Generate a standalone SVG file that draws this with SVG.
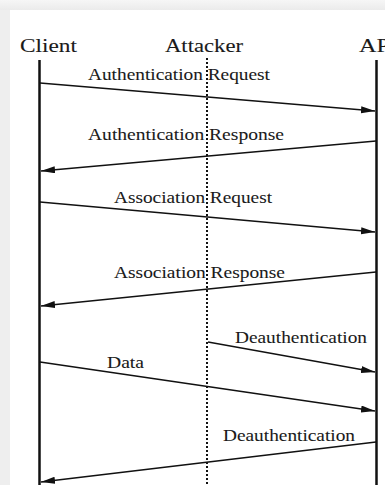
<svg xmlns="http://www.w3.org/2000/svg" width="385" height="485" viewBox="0 0 385 485">
  <defs>
    <linearGradient id="topShade" x1="0" y1="0" x2="0" y2="1">
      <stop offset="0" stop-color="#f6f6f6"/>
      <stop offset="1" stop-color="#ebebeb"/>
    </linearGradient>
    <marker id="head" markerUnits="userSpaceOnUse" markerWidth="14" markerHeight="8" refX="14" refY="3.5" orient="auto">
      <path d="M0,0 L14,3.5 L0,7 Z" fill="#111"/>
    </marker>
    <style>
      .actor { font-family: "Liberation Serif", "Times New Roman", serif; font-size: 19.5px; fill: #1a1a1a; stroke: #1a1a1a; stroke-width: 0.1; }
      .label { font-family: "Liberation Serif", "Times New Roman", serif; font-size: 17px; fill: #1a1a1a; stroke: #1a1a1a; stroke-width: 0.08; }
      .life { stroke: #111; stroke-width: 2.5; fill: none; }
      .dots { stroke: #111; stroke-width: 2; stroke-dasharray: 2 2; fill: none; }
      .msg { stroke: #111; stroke-width: 1.3; fill: none; marker-end: url(#head); }
    </style>
  </defs>

  <!-- page backdrop -->
  <rect x="0" y="0" width="385" height="485" fill="#eeeeee"/>
  <rect x="0" y="0" width="385" height="10" fill="url(#topShade)"/>
  <rect x="10" y="10" width="375" height="475" fill="#ffffff"/>

  <!-- participants -->
  <g id="client">
    <text class="actor" x="20" y="52" textLength="57" lengthAdjust="spacingAndGlyphs">Client</text>
    <line class="life" x1="39.5" y1="60" x2="39.5" y2="485"/>
  </g>
  <g id="attacker">
    <text class="actor" x="165" y="52" textLength="78" lengthAdjust="spacingAndGlyphs">Attacker</text>
    <line class="dots" x1="207" y1="58" x2="207" y2="485"/>
  </g>
  <g id="ap">
    <text class="actor" x="359" y="52" textLength="31" lengthAdjust="spacingAndGlyphs">AP</text>
    <line class="life" x1="376.5" y1="60" x2="376.5" y2="485"/>
  </g>

  <!-- messages -->
  <g id="messages">
    <line class="msg" x1="40" y1="83" x2="375" y2="111"/>
    <text class="label" x="88" y="80" textLength="182" lengthAdjust="spacingAndGlyphs">Authentication Request</text>

    <line class="msg" x1="376" y1="141" x2="41" y2="171"/>
    <text class="label" x="88" y="140" textLength="196" lengthAdjust="spacingAndGlyphs">Authentication Response</text>

    <line class="msg" x1="40" y1="202" x2="375" y2="232"/>
    <text class="label" x="114" y="203" textLength="158" lengthAdjust="spacingAndGlyphs">Association Request</text>

    <line class="msg" x1="376" y1="272" x2="41" y2="306"/>
    <text class="label" x="114" y="278" textLength="171" lengthAdjust="spacingAndGlyphs">Association Response</text>

    <line class="msg" x1="208" y1="342" x2="375" y2="372"/>
    <text class="label" x="235" y="343" textLength="132" lengthAdjust="spacingAndGlyphs">Deauthentication</text>

    <line class="msg" x1="40" y1="362" x2="375" y2="411"/>
    <text class="label" x="107" y="368" textLength="37" lengthAdjust="spacingAndGlyphs">Data</text>

    <line class="msg" x1="376" y1="442" x2="41" y2="482"/>
    <text class="label" x="223" y="441" textLength="132" lengthAdjust="spacingAndGlyphs">Deauthentication</text>
  </g>
</svg>
